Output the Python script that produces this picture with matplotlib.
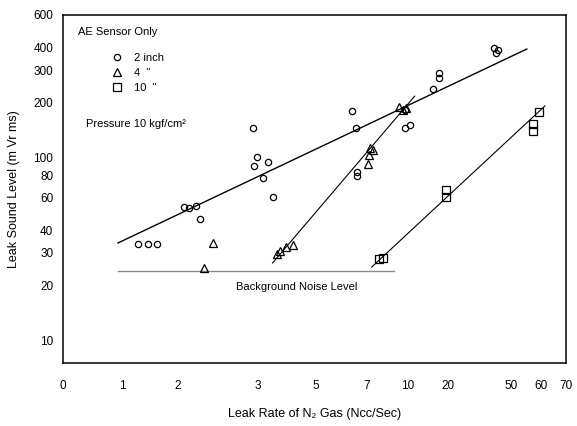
import numpy as np
import matplotlib
matplotlib.use("Agg")
import matplotlib.pyplot as plt
from matplotlib.scale import FuncScale

plt.rcParams['font.family'] = ['Liberation Sans', 'DejaVu Sans']

# leak rate axis: tick values and where they sit along the axis
x_ticks = [0, 1, 2, 3, 5, 7, 10, 20, 50, 60, 70]
x_pos = [63, 122, 177, 257, 315, 366, 407, 447, 510, 540, 565]
y_ticks = [10, 20, 30, 40, 60, 80, 100, 200, 300, 400, 600]

# 2 inch pipe
rate_2in = [1.29, 1.47, 1.64, 2.09, 2.15, 2.24, 2.29, 2.94, 2.99, 2.96, 3.38, 3.21,
            3.55, 6.41, 6.57, 6.61, 6.61, 9.78, 9.78, 10.5, 16.25, 17.75, 17.75,
            41.9, 43.8, 42.9]
level_2in = [33.5, 33.5, 33.5, 53.5, 52.7, 54.1, 45.9, 144.5, 100.3, 89.5, 94.2, 76.9,
             60.6, 179, 144.5, 83, 78.9, 181, 144.5, 150, 236, 289, 271,
             396, 386, 372]

# 4 inch pipe
rate_4in = [2.33, 2.45, 3.66, 3.79, 3.97, 4.24, 7.07, 7.15, 7.44, 7.22, 9.34, 9.63, 9.85]
level_4in = [24.8, 34.0, 29.6, 30.7, 32.3, 33.1, 91.8, 102.8, 109.5, 112, 188, 181, 186]

# 10 inch pipe
rate_10in = [7.88, 8.17, 19.5, 19.5, 57.3, 57.3, 59.3]
level_10in = [27.7, 28.1, 66.2, 60.6, 152, 139, 177]

# fitted trend lines (end points)
fit_2in_x = [0.93, 55.3]
fit_2in_y = [34.0, 391]
fit_4in_x = [3.52, 11.75]
fit_4in_y = [26.4, 216]
fit_10in_x = [7.37, 61.6]
fit_10in_y = [25.1, 191]
noise_x = [0.93, 8.98]
noise_level = 23.9


def fwd(v):
    return np.interp(v, x_ticks, x_pos)


def inv(p):
    return np.interp(p, x_pos, x_ticks)


fig = plt.figure(figsize=(5.77, 4.26), dpi=100)
ax = fig.add_axes([63 / 577, 1 - 363 / 426, 503 / 577, 348 / 426])
ax.set_xscale(FuncScale(ax.xaxis, (fwd, inv)))
ax.set_yscale('log')
ax.set_xlim(0, 70)
ax.set_ylim(7.5, 600)

ax.plot(fit_2in_x, fit_2in_y, color='black', lw=1.0)
ax.plot(fit_4in_x, fit_4in_y, color='black', lw=0.8)
ax.plot(fit_10in_x, fit_10in_y, color='black', lw=0.8)
ax.plot(noise_x, [noise_level, noise_level], color='#8a8a8a', lw=1.0)

h1, = ax.plot(rate_2in, level_2in, 'o', ms=4.5, mfc='none', mec='black', mew=0.9, ls='none')
h2, = ax.plot(rate_4in, level_4in, '^', ms=6, mfc='none', mec='black', mew=0.9, ls='none')
h3, = ax.plot(rate_10in, level_10in, 's', ms=5.5, mfc='none', mec='black', mew=0.9, ls='none')

ax.set_xticks(x_ticks)
ax.set_xticklabels([str(t) for t in x_ticks])
ax.set_yticks(y_ticks)
ax.set_yticklabels([str(t) for t in y_ticks])
ax.minorticks_off()
ax.tick_params(axis='both', length=0, labelsize=8.5)
ax.tick_params(axis='x', pad=12)
ax.tick_params(axis='y', pad=7)
for s in ax.spines.values():
    s.set_linewidth(1.1)

ax.set_xlabel('Leak Rate of N₂ Gas (Ncc/Sec)', fontsize=9, labelpad=12)
ax.set_ylabel('Leak Sound Level (m Vr ms)', fontsize=9, labelpad=10)

ax.text(0.030, 0.951, 'AE Sensor Only', transform=ax.transAxes, fontsize=8, va='center')
ax.text(0.046, 0.687, 'Pressure 10 kgf/cm²', transform=ax.transAxes, fontsize=8, va='center')
ax.text(0.344, 0.218, 'Background Noise Level', transform=ax.transAxes, fontsize=8, va='center')

ax.legend([h1, h2, h3], ['2 inch', '4  "', '10  "'], loc='upper left',
          bbox_to_anchor=(0.097, 0.892), frameon=False, fontsize=8,
          handlelength=1.0, handletextpad=1.0, labelspacing=0.45, borderpad=0,
          borderaxespad=0)

fig.savefig('out.png', dpi=100)
